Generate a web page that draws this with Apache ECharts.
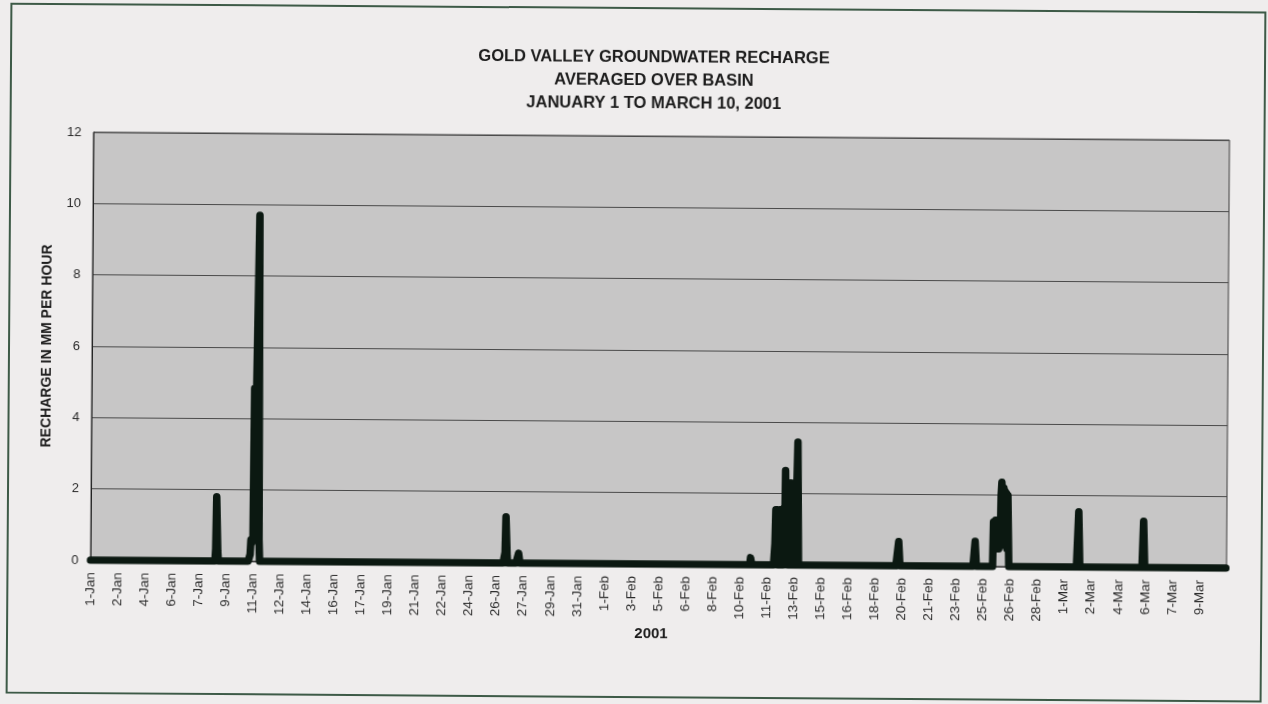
<!DOCTYPE html>
<html>
<head>
<meta charset="utf-8">
<script src="https://cdn.jsdelivr.net/npm/echarts@6/dist/echarts.min.js"></script>
<style>
  html, body { margin: 0; padding: 0; background: #efeded; }
  #sheet { position: absolute; left: 0; top: 0; width: 1268px; height: 704px; transform: rotate(0.4deg); transform-origin: 634px 352px; }
  #frame { position: absolute; left: 8px; top: 7px; width: 1252px; height: 687px; border: 2px solid #3d5a47; }
  #chart { position: absolute; left: 0; top: 0; width: 1268px; height: 704px; }
</style>
</head>
<body>
<div id="sheet">
  <div id="frame"></div>
  <div id="chart"></div>
</div>
<script>
// Hourly recharge, 1 Jan 2001 00:00 onward (hour index 0 .. 1679)
const totalHours = 1680;
const tickStep = 40; // one date label every 40 hours

const tickLabels = [
  '1-Jan', '2-Jan', '4-Jan', '6-Jan', '7-Jan', '9-Jan', '11-Jan', '12-Jan', '14-Jan', '16-Jan',
  '17-Jan', '19-Jan', '21-Jan', '22-Jan', '24-Jan', '26-Jan', '27-Jan', '29-Jan', '31-Jan',
  '1-Feb', '3-Feb', '5-Feb', '6-Feb', '8-Feb', '10-Feb', '11-Feb', '13-Feb', '15-Feb', '16-Feb',
  '18-Feb', '20-Feb', '21-Feb', '23-Feb', '25-Feb', '26-Feb', '28-Feb',
  '1-Mar', '2-Mar', '4-Mar', '6-Mar', '7-Mar', '9-Mar'
];

// Storm events: first hour of each event, and its hourly recharge (mm/hr)
const stormStart = [184, 235, 612, 632, 975, 1011, 1194, 1307, 1334, 1460, 1556];

const stormJan08 = [0, 0.35, 1.8, 1.8, 0.3, 0];
const stormJan11 = [0, 0.2, 0.6, 0.5, 0.6, 0.7, 4.85, 4.85, 4.8, 4.85, 4.85, 4.85, 9.7, 9.7, 0.6, 0];
const stormJan26 = [0, 0.3, 1.3, 1.3, 0.2, 0];
const stormJan27 = [0, 0.28, 0.28, 0];
const stormFeb10 = [0, 0.2, 0.2, 0];
const stormFeb13 = [0, 0.6, 1.55, 0.1, 1.55, 0, 1.5, 0.1, 1.55, 0, 1.5, 0.1, 1.55, 0, 1.6, 0.1,
                    2.65, 2.6, 0.1, 2.3, 0, 2.25, 0.1, 2.3, 0, 2.3, 0.1, 2.25, 0, 2.3, 0.1, 2.3,
                    0, 2.4, 3.45, 3.45, 0];
const stormFeb20 = [0, 0.68, 0.68, 0];
const stormFeb25 = [0, 0.7, 0.7, 0];
const stormFeb26 = [0, 1.25, 1.3, 0.5, 1.3, 0.5, 1.3, 0.5, 1.3, 0.5, 1.3, 0.6, 2.0, 2.36, 2.36, 0.7,
                    2.2, 0.6, 2.1, 0.6, 2.05, 0.5, 2.0, 2.0, 0];
const stormMar02 = [0, 1.55, 1.55, 0];
const stormMar06 = [0, 1.3, 1.3, 0];

const storms = [stormJan08, stormJan11, stormJan26, stormJan27, stormFeb10, stormFeb13,
                stormFeb20, stormFeb25, stormFeb26, stormMar02, stormMar06];

// full hourly series: no recharge outside the storm events
const hourly = new Array(totalHours).fill(0);
storms.forEach((vals, k) => {
  vals.forEach((v, j) => { hourly[stormStart[k] + j] = v; });
});
const seriesData = hourly.map((v, h) => [h, v]);

const chart = echarts.init(document.getElementById('chart'), null, { renderer: 'canvas' });
const font = 'Liberation Sans, Arial, Helvetica, sans-serif';

chart.setOption({
  backgroundColor: 'transparent',
  animation: false,
  title: {
    text: 'GOLD VALLEY GROUNDWATER RECHARGE\nAVERAGED OVER BASIN\nJANUARY 1 TO MARCH 10, 2001',
    left: 647,
    textAlign: 'center',
    top: 41,
    textStyle: {
      fontFamily: font,
      fontSize: 16.5,
      fontWeight: 'bold',
      color: '#1c1c1c',
      lineHeight: 23
    }
  },
  grid: {
    left: 92,
    right: 40,
    top: 136,
    bottom: 140,
    show: true,
    backgroundColor: '#c7c6c6',
    borderColor: '#3a3a3a',
    borderWidth: 1
  },
  xAxis: {
    type: 'value',
    min: 0,
    max: totalHours,
    interval: tickStep,
    name: '2001',
    nameLocation: 'middle',
    nameGap: 60,
    nameTextStyle: { fontFamily: font, fontSize: 15, fontWeight: 'bold', color: '#1c1c1c', padding: [0, 14, 0, 0] },
    axisLine: { show: true, lineStyle: { color: '#222', width: 1 } },
    axisTick: { show: false },
    splitLine: { show: false },
    axisLabel: {
      rotate: 90,
      margin: 12,
      fontFamily: font,
      fontSize: 13.5,
      color: '#2a2a2a',
      showMaxLabel: false,
      formatter: function (v) {
        const i = Math.round(v / tickStep);
        return tickLabels[i] || '';
      }
    }
  },
  yAxis: {
    type: 'value',
    min: 0,
    max: 12,
    interval: 2,
    name: 'RECHARGE IN MM PER HOUR',
    nameLocation: 'middle',
    nameRotate: 90,
    nameGap: 38,
    nameTextStyle: { fontFamily: font, fontSize: 14, fontWeight: 'bold', color: '#1c1c1c' },
    axisLine: { show: true, lineStyle: { color: '#222', width: 1 } },
    axisTick: { show: false },
    axisLabel: { fontFamily: font, fontSize: 13, color: '#2a2a2a', margin: 12 },
    splitLine: { show: true, lineStyle: { color: '#4a4a4a', width: 1 } }
  },
  series: [{
    type: 'line',
    data: seriesData,
    showSymbol: false,
    sampling: null,
    lineStyle: { color: '#0b1811', width: 7.5, join: 'round', cap: 'round' },
    z: 3
  }]
});
</script>
</body>
</html>
